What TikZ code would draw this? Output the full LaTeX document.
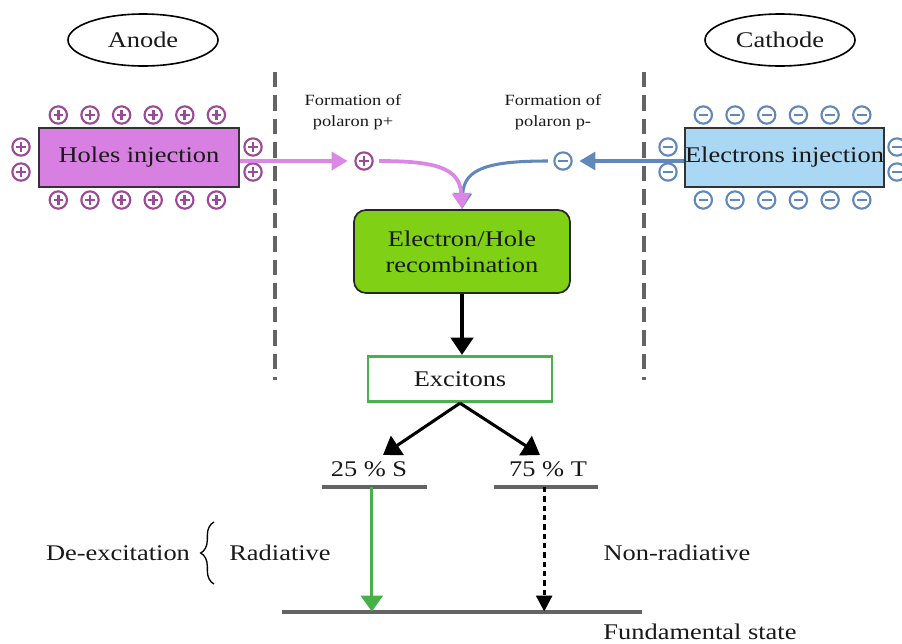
\documentclass[tikz,border=0pt]{standalone}
\usepackage{fontspec}
\setmainfont{Liberation Serif}[FakeStretch=1.18]
\usetikzlibrary{shapes.geometric,arrows.meta,decorations.pathreplacing}
\definecolor{holefill}{RGB}{216,128,226}
\definecolor{pinkarr}{RGB}{218,135,230}
\definecolor{pluscol}{RGB}{155,75,150}
\definecolor{elecfill}{RGB}{170,216,244}
\definecolor{bluecol}{RGB}{96,136,186}
\definecolor{recfill}{RGB}{128,208,22}
\definecolor{exgreen}{RGB}{76,175,80}
\definecolor{radgreen}{RGB}{72,176,72}
\definecolor{levgray}{RGB}{100,100,100}
\definecolor{txt}{RGB}{25,25,25}
\begin{document}
\begin{tikzpicture}[x=0.75pt,y=-0.75pt,
  every node/.style={text=txt},
  bigfont/.style={font=\fontsize{16.8}{19.5}\selectfont},
  smallfont/.style={font=\fontsize{11.7}{16}\selectfont},
  elec/.style={ellipse,draw=black,line width=1.2pt,minimum width=112.5pt,minimum height=39pt,inner sep=0pt,bigfont},
  injbox/.style={rectangle,draw=black!80,line width=1.3pt,minimum height=44.25pt,inner sep=0pt,bigfont},
  chp/.style={circle,draw=pluscol,line width=1.6pt,minimum size=13pt,inner sep=0pt,
    path picture={\draw[pluscol,line width=2pt] ([xshift=-3.6pt]path picture bounding box.center) -- ([xshift=3.6pt]path picture bounding box.center);
                  \draw[pluscol,line width=2pt] ([yshift=-3.6pt]path picture bounding box.center) -- ([yshift=3.6pt]path picture bounding box.center);}},
  chm/.style={circle,draw=bluecol,line width=1.6pt,minimum size=13pt,inner sep=0pt,
    path picture={\draw[bluecol,line width=2pt] ([xshift=-3.6pt]path picture bounding box.center) -- ([xshift=3.6pt]path picture bounding box.center);}},
  sep/.style={draw=levgray,line width=2.4pt,dash pattern=on 11.6pt off 6pt},
  level/.style={rectangle,fill=levgray,inner sep=0pt,minimum height=3pt},
  blackarr/.style={draw=black,line width=2.3pt,-{Triangle[length=13pt,width=17pt]}},
  pinkarrow/.style={draw=pinkarr,line width=2.8pt,-{Triangle[length=12pt,width=13.5pt]}},
  bluearrow/.style={draw=bluecol,line width=2.3pt,-{Triangle[length=12pt,width=13.5pt]}}
]
\useasboundingbox (0,0) rectangle (902,643);

% electrodes
\node[elec] (anode) at (143,40) {Anode};
\node[elec] (cathode) at (780,40) {Cathode};

% separators
\coordinate (s1a) at (275,72); \coordinate (s1b) at (275,380);
\coordinate (s2a) at (644,72); \coordinate (s2b) at (644,380);
\draw[sep] (s1a) -- (s1b);
\draw[sep] (s2a) -- (s2b);

% injection boxes
\node[injbox,fill=holefill,minimum width=150pt] (hbox) at (139,157.5) {Holes injection};
\node[injbox,fill=elecfill,minimum width=149.25pt] (ebox) at (784.5,157.5) {Electrons injection};

% charges
\foreach \x [count=\i] in {58.3,90,121.6,153.2,184.8,216.4} {
  \node[chp] (pt\i) at (\x,115) {};
  \node[chp] (pb\i) at (\x,200) {};
}
\node[chp] (pl1) at (21,147) {};
\node[chp] (pl2) at (21,172) {};
\node[chp] (pr1) at (253,147) {};
\node[chp] (pr2) at (253,172) {};
\foreach \x [count=\i] in {703.3,735,766.7,798.4,830.1,861.8} {
  \node[chm] (mt\i) at (\x,115) {};
  \node[chm] (mb\i) at (\x,200) {};
}
\node[chm] (ml1) at (668,147) {};
\node[chm] (ml2) at (668,172) {};
\node[chm] (mr1) at (897,147) {};
\node[chm] (mr2) at (897,172) {};

% polarons
\node[chp] (pp) at (364,161) {};
\node[chm] (pm) at (563,161) {};
\node[smallfont,align=center] (fp) at (353,112) {Formation of\\polaron p+};
\node[smallfont,align=center] (fm) at (553,112) {Formation of\\polaron p-};

% recombination
\node[rectangle,rounded corners=9pt,draw=black!85,line width=1.3pt,fill=recfill,
      minimum width=162pt,minimum height=62.25pt,align=center,bigfont] (rec) at (462,251.5)
      {Electron/Hole\\recombination};

% excitons
\node[rectangle,draw=exgreen,line width=2.2pt,fill=white,minimum width=138pt,minimum height=34pt,bigfont] (exc) at (460,379) {Excitons};

% injection arrows
\draw[pinkarrow] (hbox.east |- pp.west) -- ([xshift=-5pt]pp.west);
\draw[bluearrow] (ebox.west |- pm.east) -- ([xshift=5pt]pm.east);
\draw[bluearrow] ([xshift=-4pt]pm.west) .. controls (490,161) and (464,168) .. (rec.north);
\draw[pinkarrow] ([xshift=4pt]pp.east) .. controls (436,161) and (460,168) .. (rec.north);

% rec -> excitons
\draw[blackarr] (rec.south) -- (rec.south |- exc.north);

% S / T
\node[bigfont] (slab) at (369,469) {25 \% S};
\node[bigfont] (tlab) at (548,469) {75 \% T};
\coordinate (stip) at (383,455);
\coordinate (ttip) at (540,455);
\draw[blackarr] (exc.south) -- (stip);
\draw[blackarr] (exc.south) -- (ttip);

% levels
\node[level,minimum width=78.75pt] (slev) at (374.5,487) {};
\node[level,minimum width=78pt] (tlev) at (545.5,487) {};
\node[level,minimum width=270pt] (ground) at (462,611.5) {};

\draw[draw=radgreen,line width=2.3pt,-{Triangle[length=12pt,width=16.5pt]}] ([xshift=-2pt]slev.center) -- ([xshift=-2pt]slev.center |- ground.center);
\draw[draw=black,line width=2pt,dash pattern=on 4pt off 3pt,-{Triangle[length=12pt,width=12pt]}] ([xshift=-1pt]tlev.center) -- ([xshift=-1pt]tlev.center |- ground.center);

% de-excitation labels
\node[bigfont] (dex) at (118,553) {De-excitation};
\coordinate (br1) at (214,584);
\coordinate (br2) at (214,522);
\draw[black,line width=1pt,decorate,decoration={brace,amplitude=10pt}] (br1) -- (br2);
\node[bigfont] (rad) at (280,553) {Radiative};
\node[bigfont] (nrad) at (677,553) {Non-radiative};
\node[bigfont] (fund) at (700,632) {Fundamental state};
\end{tikzpicture}
\end{document}
